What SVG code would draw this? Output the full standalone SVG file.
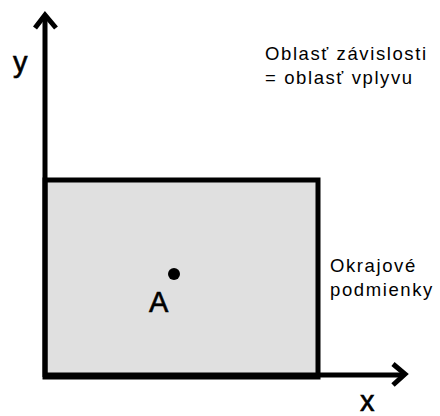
<svg xmlns="http://www.w3.org/2000/svg" width="440" height="416" viewBox="0 0 440 416">
<style>
.ax{stroke:#000;stroke-width:5;fill:none}
.lbl{font-family:"Liberation Sans",Arial,sans-serif;fill:#000}
.big{font-size:29px;stroke:#000;stroke-width:0.6}
.sm{font-size:18.5px;letter-spacing:1.6px}
</style>
<rect width="440" height="416" fill="#fff"/>
<g id="region">
<rect x="45" y="180" width="273" height="197" fill="#e0e0e0" stroke="#000" stroke-width="5"/>
</g>
<g id="connectors">
<line class="ax" x1="45" y1="377" x2="45" y2="15"/>
<polyline class="ax" points="35,28 45,15 56,28"/>
<line class="ax" x1="45" y1="375" x2="404" y2="375"/>
<polyline class="ax" points="393,364 405,374 393,385"/>
</g>
<g id="pointA">
<circle cx="174" cy="274" r="6" fill="#000"/>
<text class="lbl big" x="149" y="312">A</text>
</g>
<g id="axis-y"><text class="lbl big" x="13" y="72">y</text></g>
<g id="axis-x"><text class="lbl big" x="360" y="411">x</text></g>
<g id="note">
<text class="lbl sm" x="265" y="60">Oblasť závislosti</text>
<text class="lbl sm" x="265" y="84">= oblasť vplyvu</text>
</g>
<g id="bc">
<text class="lbl sm" x="330" y="272">Okrajové</text>
<text class="lbl sm" x="330" y="296">podmienky</text>
</g>
</svg>
